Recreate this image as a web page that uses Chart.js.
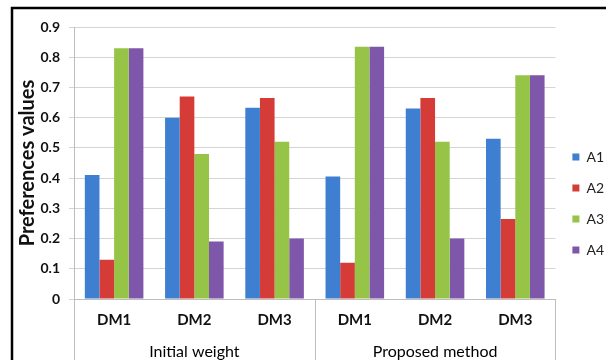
<!DOCTYPE html>
<html>
<head>
<meta charset="utf-8">
<script src="https://cdn.jsdelivr.net/npm/chart.js@4/dist/chart.umd.min.js"></script>
<style>
  html, body { margin: 0; padding: 0; background: #fff; }
  body { width: 606px; height: 360px; overflow: hidden; }
  #wrap { position: relative; width: 614px; height: 380px; }
</style>
</head>
<body>
<div id="wrap"><canvas id="chart" width="614" height="380"></canvas></div>
<script>
// Decision makers, shown once per weighting approach
const categories = ['DM1', 'DM2', 'DM3', 'DM1', 'DM2', 'DM3'];
const groupLabels = ['Initial weight', 'Proposed method'];
const dmPerGroup = 3;

// Preference values of each alternative
const seriesNames = ['A1', 'A2', 'A3', 'A4'];
const a1Values = [0.41, 0.60, 0.633, 0.405, 0.63, 0.53];
const a2Values = [0.13, 0.67, 0.665, 0.12, 0.665, 0.265];
const a3Values = [0.83, 0.48, 0.52, 0.835, 0.52, 0.74];
const a4Values = [0.83, 0.19, 0.20, 0.835, 0.20, 0.74];

const yTickLabels = ['0', '0.1', '0.2', '0.3', '0.4', '0.5', '0.6', '0.7', '0.8', '0.9'];

const seriesColors = ['#3f7fd2', '#d63c37', '#95c447', '#7e56aa'];
const gridColor = '#d4d4d4';
const axisColor = '#bdbdbd';
const FONT = 'Lato, "Open Sans", sans-serif';

// White background, the black chart frame and the category group separators
const chartDecor = {
  id: 'chartDecor',
  beforeDraw(chart) {
    const { ctx, width, height } = chart;
    ctx.save();
    ctx.fillStyle = '#ffffff';
    ctx.fillRect(0, 0, width, height);
    ctx.restore();
  },
  afterDraw(chart) {
    const { ctx, chartArea, scales } = chart;
    const x = scales.x;
    ctx.save();
    ctx.strokeStyle = axisColor;
    ctx.lineWidth = 1;
    const bounds = [-0.5];
    for (let g = 1; g <= groupLabels.length; g++) bounds.push(g * dmPerGroup - 0.5);
    for (const b of bounds) {
      const px = Math.round(x.getPixelForValue(b)) + 0.5;
      ctx.beginPath();
      ctx.moveTo(px, chartArea.bottom);
      ctx.lineTo(px, chart.height);
      ctx.stroke();
    }
    ctx.strokeStyle = '#000';
    ctx.lineWidth = 2.5;
    ctx.strokeRect(12, 8, chart.width + 40, chart.height + 40);
    ctx.restore();
  }
};

const valueSets = [a1Values, a2Values, a3Values, a4Values];

new Chart(document.getElementById('chart'), {
  type: 'bar',
  data: {
    labels: categories,
    datasets: seriesNames.map((name, i) => ({
      label: name,
      data: valueSets[i],
      backgroundColor: seriesColors[i],
      borderWidth: 0,
      categoryPercentage: 0.73,
      barPercentage: 1.0,
      xAxisID: 'x',
      yAxisID: 'y'
    }))
  },
  options: {
    responsive: false,
    animation: false,
    layout: { padding: { top: 27, left: 0, right: 0, bottom: 0 } },
    plugins: {
      tooltip: { enabled: false },
      legend: {
        position: 'right',
        labels: {
          boxWidth: 7,
          boxHeight: 7,
          padding: 17,
          color: '#222',
          font: { family: FONT, size: 14 }
        }
      }
    },
    scales: {
      y: {
        min: 0,
        max: 0.9,
        ticks: {
          stepSize: 0.1,
          padding: 9,
          color: '#111',
          font: { family: FONT, size: 14, weight: 'bold' },
          callback: (v) => yTickLabels[Math.round(v * 10)]
        },
        grid: { color: gridColor, tickLength: 5, tickColor: gridColor },
        border: { color: axisColor },
        title: {
          display: true,
          text: 'Preferences values',
          color: '#111',
          font: { family: FONT, size: 20, weight: 'bold' },
          padding: { top: 16, bottom: 0 }
        },
        afterFit: (s) => { s.width = 74; }
      },
      x: {
        type: 'category',
        position: 'bottom',
        weight: 0,
        grid: { display: false, drawTicks: false },
        border: { display: true, color: axisColor },
        ticks: {
          autoSkip: false,
          maxRotation: 0,
          padding: 12,
          color: '#111',
          font: { family: FONT, size: 15, weight: 'bold' }
        },
        afterFit: (s) => { s.height = 40; }
      },
      x2: {
        type: 'category',
        position: 'bottom',
        weight: 1,
        labels: groupLabels,
        offset: true,
        grid: { display: false, drawTicks: false },
        border: { display: false },
        ticks: {
          autoSkip: false,
          maxRotation: 0,
          padding: 3,
          color: '#000',
          font: { family: FONT, size: 16 }
        },
        afterFit: (s) => { s.height = 41; }
      }
    }
  },
  plugins: [chartDecor]
});
</script>
</body>
</html>
